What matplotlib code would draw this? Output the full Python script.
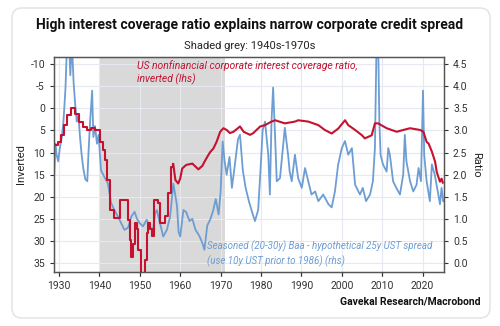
import matplotlib
matplotlib.use("Agg")
import matplotlib.pyplot as plt
from matplotlib.patches import FancyBboxPatch

plt.rcParams["font.family"] = ["Roboto", "DejaVu Sans"]
plt.rcParams["axes.unicode_minus"] = False

RED = "#c4122f"
BLUE = "#6d9dd3"
SHADE = "#d9d9d9"
GRID = "#e6e9ef"

# Interest coverage ratio, inverted (lhs) - stepped annual section
cov_step_year = [1928.8, 1929.8, 1930.4, 1931.2, 1932.0, 1933.0, 1934.0, 1935.0,
                 1936.0, 1937.0, 1938.0, 1939.0, 1940.2, 1940.8, 1941.3, 1942.0,
                 1942.7, 1943.7, 1945.0, 1947.0, 1947.5, 1947.9, 1948.3, 1948.7,
                 1949.2, 1949.6, 1950.2, 1951.2, 1951.7, 1952.1, 1952.5, 1952.9,
                 1953.6, 1954.6, 1955.0, 1956.2, 1957.0, 1957.8, 1958.3]
cov_step_val = [8.3, 7.7, 6.1, 3.8, 1.5, 0.0, 1.2, 3.0,
                4.2, 4.8, 4.5, 4.8, 7.6, 9.5, 11.7, 16.2,
                23.0, 24.8, 20.8, 25.3, 29.8, 33.6, 30.8, 26.0,
                27.4, 32.0, 37.5, 34.3, 28.2, 26.0, 27.4, 28.9,
                20.8, 21.5, 26.0, 24.4, 19.2, 13.3, 12.7]

# Interest coverage ratio, inverted (lhs) - later section
cov_year = [1958.3, 1958.8, 1959.5, 1960.0, 1960.5, 1961.5, 1963.0, 1964.5,
            1965.5, 1966.0, 1967.0, 1967.5, 1968.2, 1969.0, 1969.9, 1970.7,
            1971.5, 1972.3, 1973.2, 1974.8, 1975.7, 1977.3, 1978.1, 1979.8,
            1981.0, 1982.6, 1983.5, 1985.9, 1988.4, 1989.2, 1991.7, 1994.2,
            1995.8, 1997.5, 1999.1, 2000.8, 2001.6, 2003.3, 2005.0, 2005.7,
            2007.4, 2008.2, 2009.0, 2011.1, 2013.6, 2015.2, 2016.9, 2019.4,
            2020.2, 2021.0, 2021.5, 2022.3, 2023.1, 2023.5, 2023.9, 2024.3,
            2024.7, 2025.0]
cov_val = [12.7, 16.2, 17.0, 15.9, 13.6, 12.8, 12.5, 13.8,
           13.0, 12.1, 10.5, 9.8, 9.1, 7.6, 5.3, 4.5,
           4.9, 5.6, 5.3, 4.1, 5.3, 6.0, 5.6, 4.1,
           3.8, 3.0, 2.7, 3.4, 3.0, 2.7, 3.0, 3.8,
           4.9, 5.7, 4.6, 2.7, 3.8, 4.9, 6.1, 6.8,
           6.1, 3.4, 3.4, 4.5, 5.3, 4.9, 4.5, 4.9,
           5.3, 7.6, 8.0, 9.8, 12.1, 14.4, 15.5, 16.6,
           15.9, 16.8]

# Baa - UST spread (rhs)
spread_year = [1928.8, 1929.1, 1929.4, 1929.8, 1930.2, 1930.7, 1931.1, 1931.6,
               1932.0, 1932.4, 1932.8, 1933.2, 1933.6, 1934.0, 1934.4, 1934.8,
               1935.2, 1935.6, 1936.0, 1936.5, 1937.0, 1937.3, 1937.7, 1938.2,
               1938.5, 1938.9, 1939.4, 1939.8, 1940.4, 1941.2, 1942.1, 1942.9,
               1943.7, 1944.6, 1945.4, 1946.2, 1947.1, 1947.9, 1948.7, 1949.3,
               1950.0, 1950.8, 1951.7, 1952.5, 1953.3, 1953.8, 1954.2, 1955.0,
               1955.8, 1956.7, 1957.5, 1958.3, 1959.2, 1959.6, 1960.0, 1960.8,
               1961.5, 1962.3, 1963.0, 1963.8, 1964.7, 1965.5, 1966.0, 1966.7,
               1967.5, 1968.2, 1968.8, 1969.5, 1970.0, 1970.5, 1971.0, 1971.5,
               1972.2, 1972.8, 1973.5, 1974.3, 1974.8, 1975.5, 1976.2, 1977.0,
               1977.8, 1978.5, 1979.3, 1980.0, 1980.4, 1981.0, 1981.8, 1982.2,
               1982.6, 1983.0, 1983.5, 1983.9, 1984.7, 1985.9, 1986.3, 1986.7,
               1987.1, 1987.6, 1988.4, 1989.2, 1990.1, 1990.9, 1991.7, 1992.5,
               1993.4, 1994.2, 1995.4, 1996.7, 1997.5, 1998.3, 1999.1, 2000.0,
               2000.8, 2001.6, 2002.5, 2003.3, 2004.1, 2004.5, 2005.2, 2006.0,
               2007.0, 2007.7, 2008.2, 2008.6, 2009.0, 2009.3, 2009.6, 2010.2,
               2011.1, 2011.5, 2011.9, 2012.3, 2012.7, 2013.5, 2014.4, 2015.2,
               2015.6, 2016.0, 2016.9, 2017.7, 2018.5, 2019.0, 2019.6, 2020.1,
               2020.4, 2021.0, 2021.8, 2022.3, 2023.0, 2023.9, 2024.3, 2024.7,
               2025.1]
spread_val = [2.0, 2.7, 2.45, 2.3, 2.6, 2.85, 3.2, 3.95,
              5.0, 5.2, 4.25, 5.0, 4.1, 3.6, 3.2, 3.35,
              2.85, 2.45, 2.15, 1.9, 1.85, 2.5, 3.2, 3.9,
              2.85, 3.1, 2.7, 2.9, 2.1, 1.95, 1.8, 1.36,
              1.2, 1.05, 0.9, 0.75, 0.8, 1.05, 1.16, 1.0,
              0.9, 0.83, 0.98, 0.8, 0.77, 1.13, 1.2, 0.9,
              0.6, 0.75, 1.05, 1.8, 1.3, 0.7, 0.6, 1.2,
              1.15, 0.95, 1.0, 0.75, 0.62, 0.45, 0.3, 0.85,
              1.0, 1.2, 1.45, 1.1, 1.6, 2.75, 2.3, 2.0,
              2.4, 1.7, 2.2, 2.8, 2.9, 2.1, 1.7, 1.4,
              1.15, 0.95, 1.2, 2.3, 3.0, 3.2, 2.45, 1.55,
              3.2, 3.97, 2.83, 1.85, 1.92, 3.06, 2.76, 2.45,
              2.07, 1.85, 2.45, 1.92, 1.7, 2.15, 1.85, 1.55,
              1.62, 1.4, 1.55, 1.33, 1.26, 1.62, 2.23, 2.6,
              2.76, 2.45, 2.6, 1.77, 1.62, 1.55, 1.7, 1.4,
              1.55, 1.85, 2.6, 5.0, 5.0, 3.2, 2.45, 2.23,
              2.07, 2.6, 2.45, 2.15, 1.85, 1.7, 1.55, 2.0,
              2.9, 2.3, 1.85, 1.62, 1.77, 2.15, 1.85, 3.9,
              2.45, 1.85, 1.4, 2.23, 2.0, 1.55, 1.33, 1.7,
              1.4]

left_ticks = list(range(-10, 40, 5))
right_ticks = [0.0, 0.5, 1.0, 1.5, 2.0, 2.5, 3.0, 3.5, 4.0, 4.5]
year_ticks = list(range(1930, 2030, 10))

fig = plt.figure(figsize=(5.0, 3.26), dpi=100)
fig.patches.append(FancyBboxPatch((0.12, 0.08), 4.78, 3.1,
                                  boxstyle="round,pad=0,rounding_size=0.1",
                                  transform=fig.dpi_scale_trans, facecolor="none",
                                  edgecolor="#e2e2e2", linewidth=1.0, zorder=-10))

ax = fig.add_axes([0.108, 0.166, 0.78, 0.659])
ax2 = ax.twinx()
ax.set_zorder(ax2.get_zorder() + 1)
ax.patch.set_visible(False)
ax2.patch.set_visible(True)
ax2.patch.set_facecolor("white")

# background: shading and grid on the rhs axes
ax2.axvspan(1940, 1971, color=SHADE, lw=0, zorder=0)
ax2.xaxis.set_visible(True)
ax2.tick_params(axis="x", length=0, labelbottom=False, labeltop=False)
ax2.grid(True, color=GRID, linewidth=0.8, zorder=0.5)
ax2.set_axisbelow(True)

ax2.plot(spread_year, spread_val, color=BLUE, linewidth=1.3)
ax.plot(cov_step_year, cov_step_val, color=RED, linewidth=1.5, drawstyle="steps-post")
ax.plot(cov_year, cov_val, color=RED, linewidth=1.5)

ax.set_xlim(1928.76, 2025.3)
ax.set_ylim(37.0, -11.6)
ax2.set_ylim(-0.2, 4.66)
ax.set_xticks(year_ticks)
ax.set_yticks(left_ticks)
ax2.set_yticks(right_ticks)
ax2.set_yticklabels([f"{v:.1f}" for v in right_ticks])

for a in (ax, ax2):
    a.tick_params(labelsize=7.5, colors="#333333", length=3, width=0.8)
    for s in a.spines.values():
        s.set_color("#555555")
        s.set_linewidth(0.9)

ax.set_ylabel("Inverted", fontsize=8, color="#222222", labelpad=3)
ax2.set_ylabel("Ratio", fontsize=8, color="#222222", rotation=270, labelpad=10)

ax.text(0.213, 0.985, "US nonfinancial corporate interest coverage ratio,\ninverted (lhs)",
        transform=ax.transAxes, color=RED, fontsize=7.5, style="italic",
        ha="left", va="top", linespacing=1.3)
ax.text(0.392, 0.025, "Seasoned (20-30y) Baa - hypothetical 25y UST spread\n(use 10y UST prior to 1986) (rhs)",
        transform=ax.transAxes, color=BLUE, fontsize=7, style="italic",
        ha="left", va="bottom", linespacing=1.35)

fig.text(0.5, 0.923, "High interest coverage ratio explains narrow corporate credit spread",
         ha="center", va="center", fontsize=10, fontweight="bold", color="#111111")
fig.text(0.5, 0.859, "Shaded grey: 1940s-1970s", ha="center", va="center",
         fontsize=8, color="#222222")
fig.text(0.962, 0.074, "Gavekal Research/Macrobond", ha="right", va="center",
         fontsize=7.5, fontweight="bold", color="#111111")

fig.savefig("out.png", dpi=100)
